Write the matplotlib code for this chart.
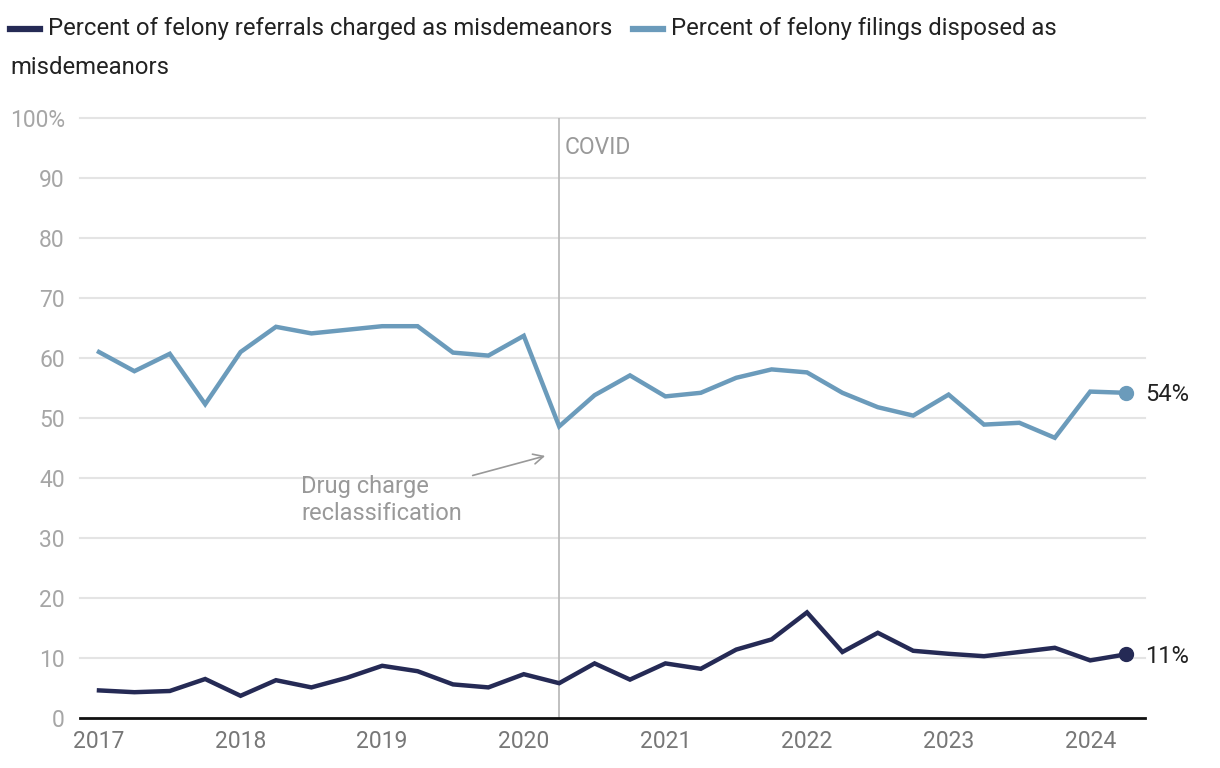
import numpy as np
import matplotlib.pyplot as plt
from matplotlib.lines import Line2D

plt.rcParams['font.family'] = ['Roboto', 'DejaVu Sans']

# quarterly, 2017 Q1 .. 2024 Q2
quarters = np.arange(2017, 2024.26, 0.25)

referrals_misd = [4.6, 4.3, 4.5, 6.5, 3.7, 6.3, 5.1, 6.7, 8.7, 7.8,
                  5.6, 5.1, 7.3, 5.8, 9.1, 6.4, 9.1, 8.2, 11.4, 13.1,
                  17.6, 11.0, 14.2, 11.2, 10.7, 10.3, 11.0, 11.7, 9.6, 10.6]
filings_misd = [61.0, 57.8, 60.7, 52.3, 61.0, 65.2, 64.1, 64.7, 65.3, 65.3,
                60.9, 60.4, 63.7, 48.6, 53.8, 57.1, 53.6, 54.2, 56.7, 58.1,
                57.6, 54.2, 51.8, 50.4, 53.9, 48.9, 49.2, 46.7, 54.4, 54.2]

year_ticks = [2017, 2018, 2019, 2020, 2021, 2022, 2023, 2024]
y_ticks = [0, 10, 20, 30, 40, 50, 60, 70, 80, 90, 100]
y_labels = ['0', '10', '20', '30', '40', '50', '60', '70', '80', '90', '100%']

dark = '#252a55'
light = '#6b9bbb'

fig = plt.figure(figsize=(12.2, 7.68), dpi=100)
ax = fig.add_axes([80 / 1220, 50 / 768, 1065 / 1220, 600 / 768])

ax.set_xlim(2016.866, 2024.387)
ax.set_ylim(0, 100)

for v in y_ticks[1:]:
    ax.axhline(v, color='#e4e4e4', lw=1.5, zorder=0, clip_on=False)

# covid line
ax.axvline(2020.25, color='#bbbbbb', lw=1.3, zorder=1)
ax.text(2020.285, 95, 'COVID', color='#999999', fontsize=16.5, va='center', ha='left')

ax.plot(quarters, filings_misd, color=light, lw=3.2, zorder=3, solid_joinstyle='miter')
ax.plot(quarters, referrals_misd, color=dark, lw=3.2, zorder=3, solid_joinstyle='miter')
ax.plot(quarters[-1], filings_misd[-1], 'o', color=light, ms=10, zorder=4, clip_on=False)
ax.plot(quarters[-1], referrals_misd[-1], 'o', color=dark, ms=10, zorder=4, clip_on=False)
ax.text(quarters[-1] + 0.14, filings_misd[-1] - 0.3, '%d%%' % round(filings_misd[-1]),
        color='#222222', fontsize=17, va='center', ha='left')
ax.text(quarters[-1] + 0.14, referrals_misd[-1] - 0.4, '%d%%' % round(referrals_misd[-1]),
        color='#222222', fontsize=17, va='center', ha='left')

# drug reclassification note
ax.annotate('', xy=(2020.17, 43.8), xytext=(2019.62, 40.3),
            arrowprops=dict(arrowstyle='->', color='#999999', lw=1.2,
                            mutation_scale=18))
ax.text(2018.43, 36.3, 'Drug charge\nreclassification', color='#999999',
        fontsize=17, ha='left', va='center', linespacing=1.2)

ax.set_yticks(y_ticks)
ax.set_yticklabels(y_labels)
ax.set_xticks(year_ticks)
ax.set_xticklabels([str(y) for y in year_ticks])
ax.tick_params(axis='y', length=0, pad=11, labelsize=16.5, labelcolor='#a6a6a6')
ax.tick_params(axis='x', length=0, pad=9, labelsize=16.5, labelcolor='#777777')

for s in ['top', 'right', 'left']:
    ax.spines[s].set_visible(False)
ax.spines['bottom'].set_color('#111111')
ax.spines['bottom'].set_linewidth(2)
ax.spines['bottom'].set_zorder(5)

# legend drawn by hand to keep the wrapping
H = 768
fig.add_artist(Line2D([10 / 1220, 40 / 1220], [1 - 29 / H, 1 - 29 / H], color=dark, lw=4.5))
fig.text(48 / 1220, 1 - 28 / H, 'Percent of felony referrals charged as misdemeanors',
         fontsize=17.2, color='#222222', va='center', ha='left')
fig.add_artist(Line2D([633 / 1220, 663 / 1220], [1 - 29 / H, 1 - 29 / H], color=light, lw=4.5))
fig.text(671 / 1220, 1 - 28 / H, 'Percent of felony filings disposed as',
         fontsize=17.2, color='#222222', va='center', ha='left')
fig.text(10 / 1220, 1 - 67 / H, 'misdemeanors',
         fontsize=17.2, color='#222222', va='center', ha='left')

fig.savefig('out.png', dpi=100)
